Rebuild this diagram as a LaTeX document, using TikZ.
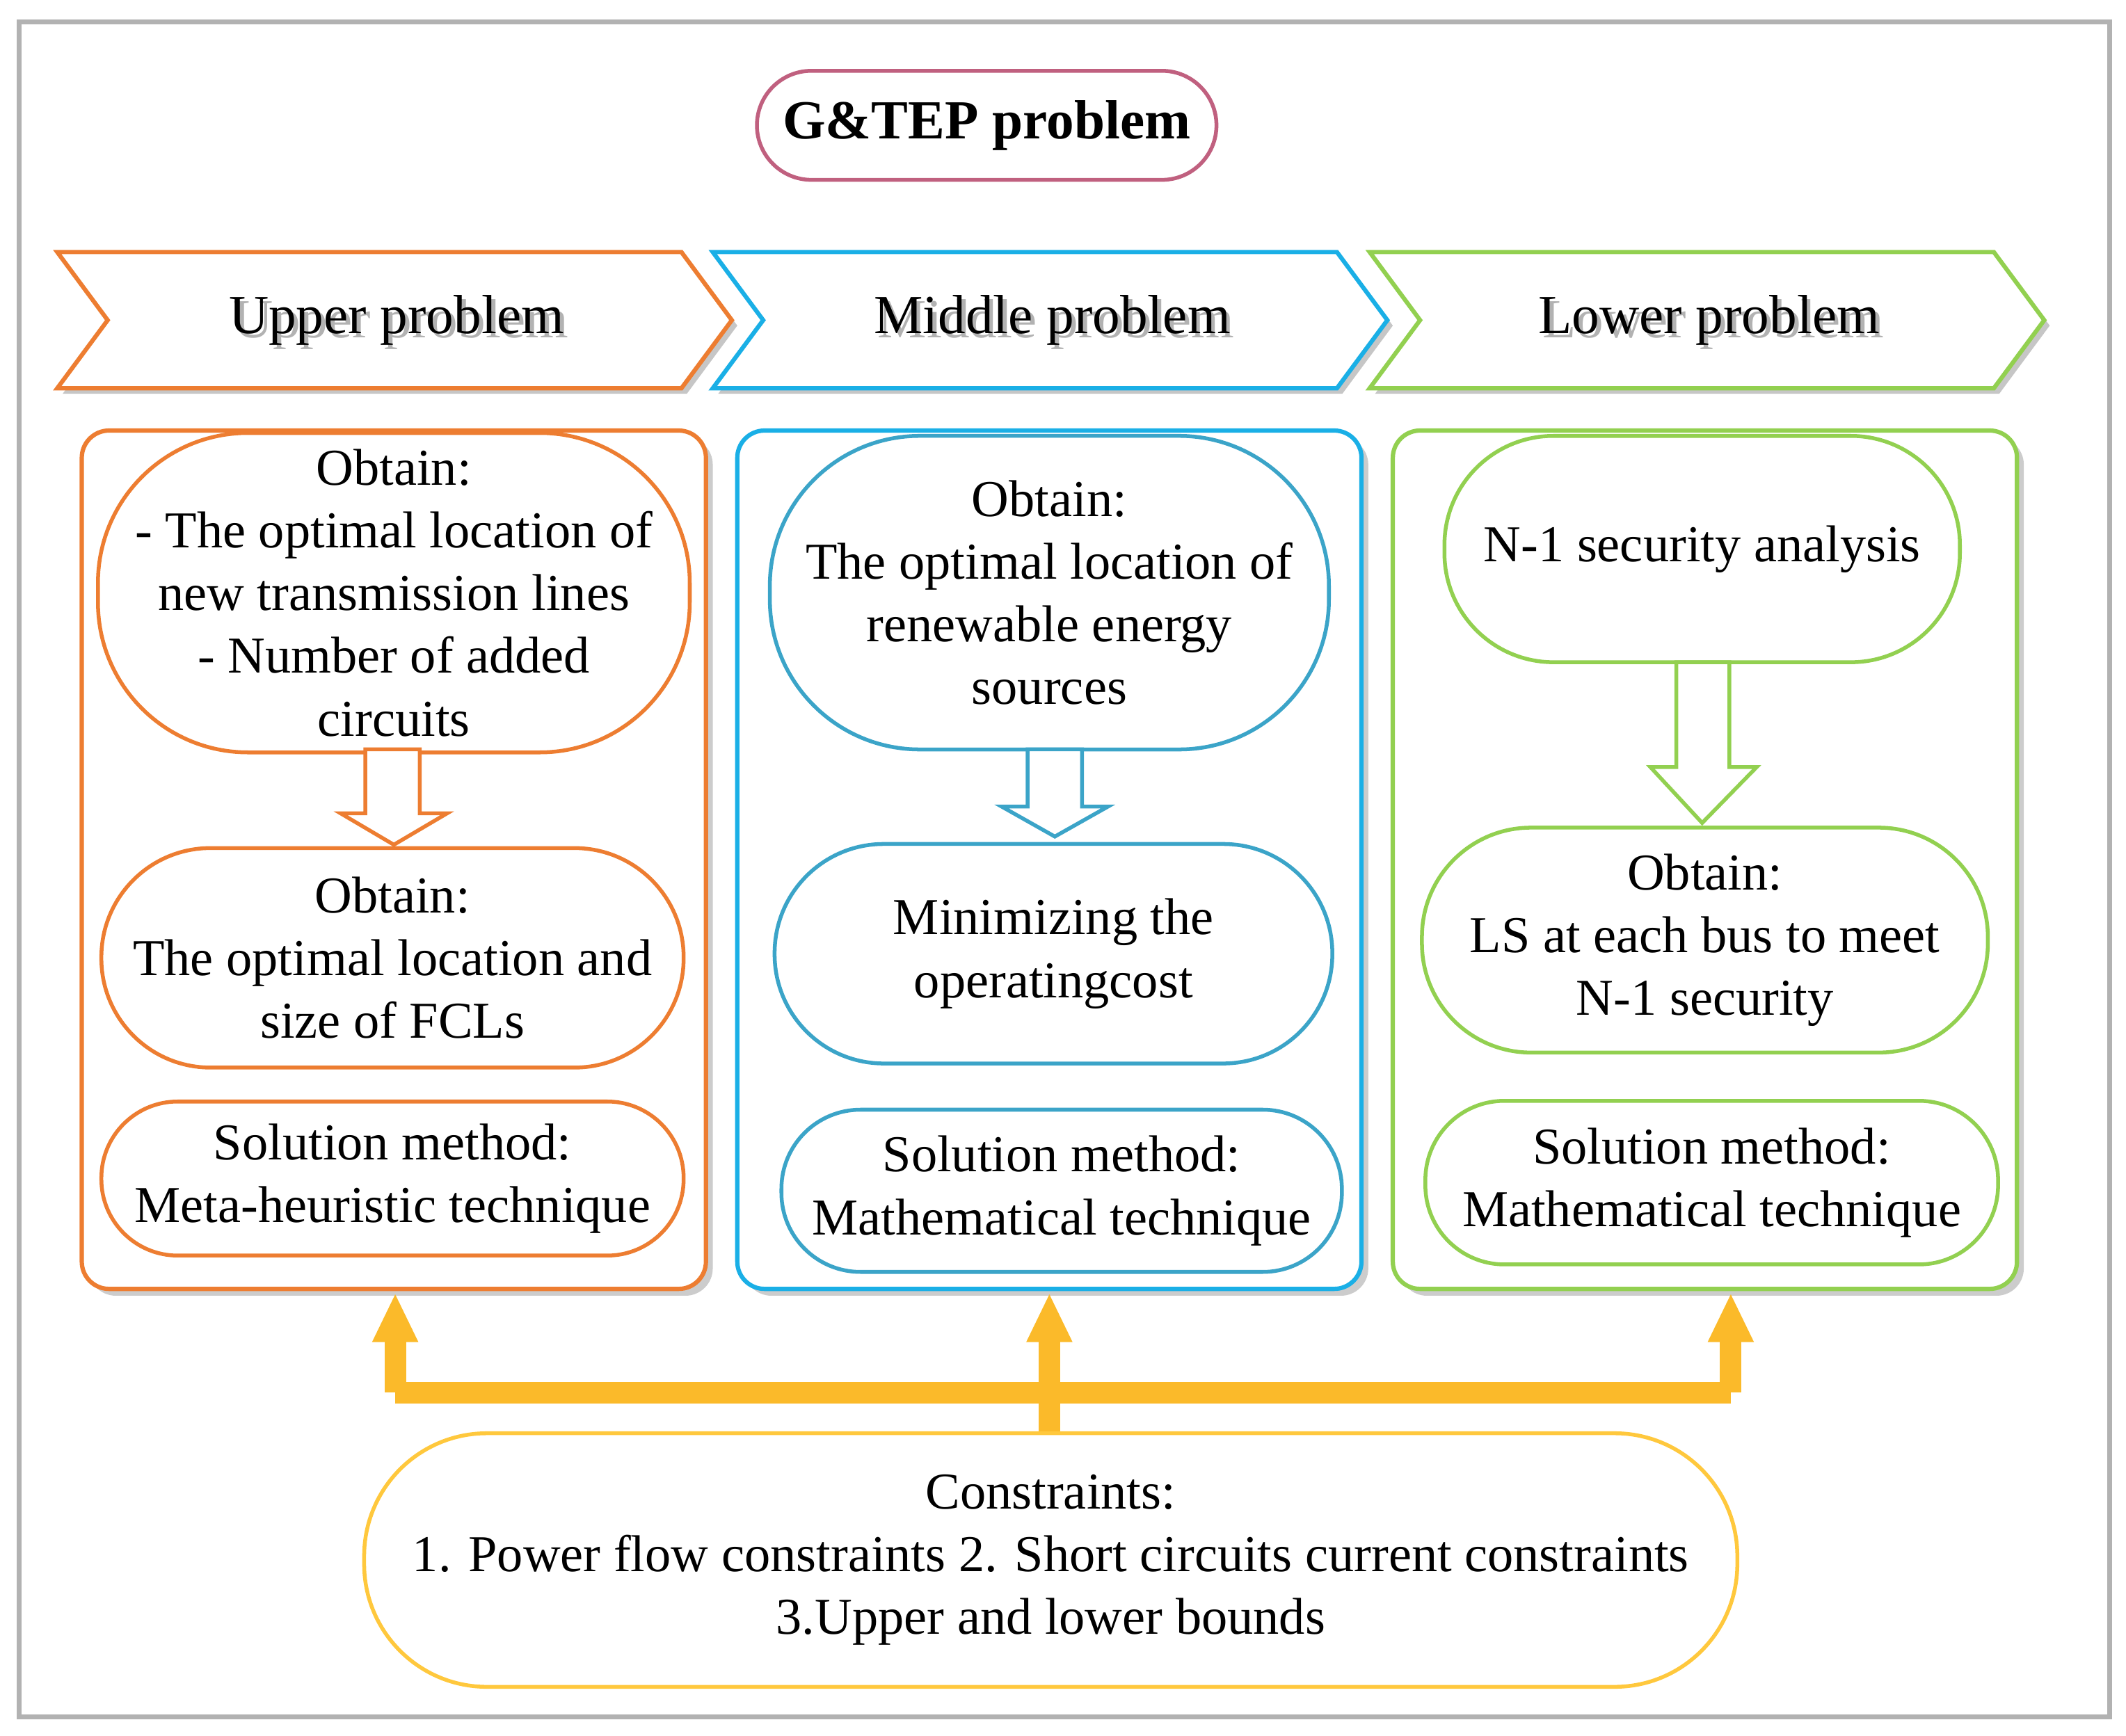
\documentclass[tikz,border=0pt]{standalone}
\usepackage{fontspec}
\setmainfont{Liberation Serif}
\begin{document}
\begin{tikzpicture}[x=0.01cm,y=-0.01cm,
  every node/.style={font=\fontsize{10.8}{13.1}\selectfont, align=center},
  rb/.style={draw, line width=0.8pt, rounded corners=#1, fill=white},
  col/.style={draw, line width=0.9pt, rounded corners=0.2cm, fill=white},
  blk/.style={draw, line width=0.8pt, fill=white, line join=miter},
  yl/.style={draw=cY, line width=4.5pt},
]
\definecolor{cO}{HTML}{ED7D31}
\definecolor{cB}{HTML}{1AAFE6}
\definecolor{cB2}{HTML}{3BA4C8}
\definecolor{cG}{HTML}{92D050}
\definecolor{cY}{HTML}{FBBA2A}
\definecolor{cY2}{HTML}{FFC83D}
\definecolor{cP}{HTML}{C0607F}
\useasboundingbox (0,0) rectangle (1560,1274);
\draw[gray!60, line width=1pt] (14,16) rectangle (1548,1260);
% title
\node[rb=0.4cm, draw=cP, minimum width=3.37cm, minimum height=0.8cm, font=\fontsize{11.5}{14}\selectfont\bfseries] (t) at (724,92) {G\&TEP problem};
% chevrons
\foreach \x/\c/\t [count=\i] in {42/cO/Upper problem, 523/cB/Middle problem, 1005/cG/Lower problem}{
  \fill[gray!45] (\x+4,189) -- (\x+462,189) -- (\x+499,239) -- (\x+462,289) -- (\x+4,289) -- (\x+4+37,239) -- cycle;
  \draw[\c, line width=0.9pt, fill=white] (\x,185) -- (\x+458,185) -- (\x+495,235) -- (\x+458,285) -- (\x,285) -- (\x+37,235) -- cycle;
  \node[gray!60, font=\fontsize{11.5}{14}\selectfont] at (\x+252,238) {\t};
  \node[font=\fontsize{11.5}{14}\selectfont] (ch\i) at (\x+249,235) {\t};
}
% columns
\foreach \x/\c in {60/cO, 541/cB, 1022/cG}{
  \fill[gray!40, rounded corners=0.2cm] (\x+5,321) rectangle (\x+463,951);
  \draw[\c, col] (\x,316) rectangle (\x+458,946);
}
% orange
\node[rb=1.1cm, draw=cO, minimum width=4.34cm, minimum height=2.3cm] (o1) at (289,435) {Obtain:\\- The optimal location of\\new transmission lines\\- Number of added\\circuits};
\draw[blk, draw=cO] (268,550) -- (308,550) -- (308,597) -- (328,597) -- (289,620) -- (250,597) -- (268,597) -- cycle;
\node[rb=0.8cm, draw=cO, minimum width=4.27cm, minimum height=1.61cm] (o2) at (288,703) {Obtain:\\The optimal location and\\size of FCLs};
\node[rb=0.56cm, draw=cO, minimum width=4.27cm, minimum height=1.13cm] (o3) at (288,865) {Solution method:\\Meta-heuristic technique};
% blue
\node[rb=1.1cm, draw=cB2, minimum width=4.1cm, minimum height=2.3cm] (b1) at (770,435) {Obtain:\\The optimal location of\\renewable energy\\sources};
\draw[blk, draw=cB2] (754,550) -- (794,550) -- (794,592) -- (813,592) -- (774,614) -- (735,592) -- (754,592) -- cycle;
\node[rb=0.8cm, draw=cB2, minimum width=4.09cm, minimum height=1.61cm] (b2) at (773,700) {Minimizing the\\operatingcost};
\node[rb=0.58cm, draw=cB2, minimum width=4.11cm, minimum height=1.19cm] (b3) at (779,874) {Solution method:\\Mathematical technique};
% green
\node[rb=0.8cm, draw=cG, minimum width=3.78cm, minimum height=1.66cm] (g1) at (1249,403) {N-1 security analysis};
\draw[blk, draw=cG] (1230,486) -- (1269,486) -- (1269,563) -- (1289,563) -- (1249,604) -- (1211,563) -- (1230,563) -- cycle;
\node[rb=0.8cm, draw=cG, minimum width=4.15cm, minimum height=1.65cm] (g2) at (1251,690) {Obtain:\\LS at each bus to meet\\N-1 security};
\node[rb=0.58cm, draw=cG, minimum width=4.2cm, minimum height=1.2cm] (g3) at (1256,868) {Solution method:\\Mathematical technique};
% bottom
\node[rb=0.9cm, draw=cY2, minimum width=10.07cm, minimum height=1.86cm] (c) at (771,1145) {Constraints:\\1. Power flow constraints 2. Short circuits current constraints\\3.Upper and lower bounds};
\coordinate (hl) at (290,1022); \coordinate (hm) at (770,1022); \coordinate (hr) at (1270,1022);
\draw[yl] (hl) -- (hr);
\draw[yl] (c.north -| hm) -- (hm);
\foreach \p/\q in {hl/290, hm/770, hr/1270}{
  \draw[yl] (\p) -- (\q,975);
  \fill[cY] (\q-17,985) -- (\q,950) -- (\q+17,985) -- cycle;
}
\end{tikzpicture}
\end{document}
